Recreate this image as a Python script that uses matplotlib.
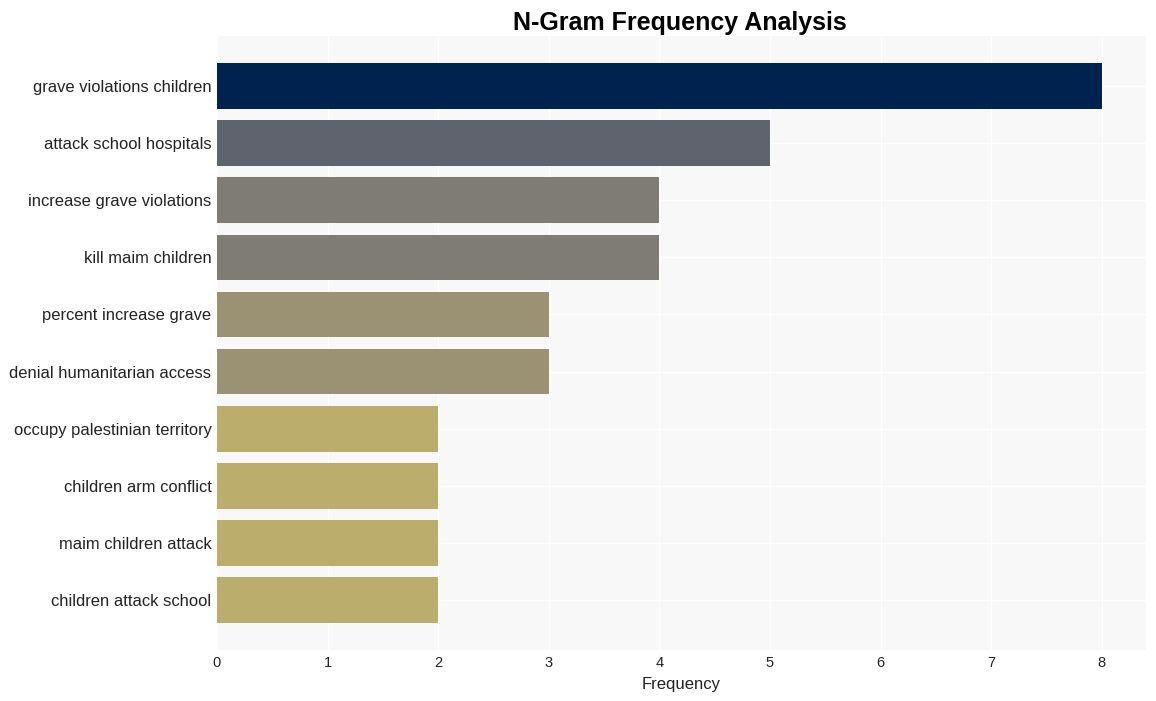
import matplotlib
matplotlib.use("Agg")
import matplotlib.pyplot as plt

ngrams = [
    "grave violations children",
    "attack school hospitals",
    "increase grave violations",
    "kill maim children",
    "percent increase grave",
    "denial humanitarian access",
    "occupy palestinian territory",
    "children arm conflict",
    "maim children attack",
    "children attack school",
]
counts = [8, 5, 4, 4, 3, 3, 2, 2, 2, 2]
bar_colors = ["#00224e", "#5f636e", "#7f7c76", "#7f7c76", "#9b9274",
              "#9b9274", "#bbad6c", "#bbad6c", "#bbad6c", "#bbad6c"]

plt.rcParams['font.family'] = ['Liberation Sans', 'DejaVu Sans']

fig = plt.figure(figsize=(11.56, 7.01), dpi=100)
ax = fig.add_axes([0.1877, 0.0727, 0.8036, 0.8759])
ax.set_facecolor("#f8f8f8")
ypos = list(range(len(ngrams)))
ax.barh(ypos, counts, height=0.8, color=bar_colors, zorder=2)
ax.set_yticks(ypos)
ax.set_yticklabels(ngrams, fontsize=11.9, color="#222222")
ax.set_xlim(0, 8.4)
ax.set_ylim(9.875, -0.875)
ax.set_xticks(range(0, 9))
ax.tick_params(axis='x', labelsize=10.5, colors="#222222", length=0, pad=4)
ax.tick_params(axis='y', length=0, pad=4)
ax.grid(True, color="white", linewidth=1, zorder=0)
ax.set_axisbelow(True)
for s in ax.spines.values():
    s.set_visible(False)
ax.set_xlabel("Frequency", fontsize=12, color="#222222", labelpad=5)
fig.suptitle("N-Gram Frequency Analysis", fontsize=18, fontweight="bold", x=0.588, y=0.985)
fig.savefig("out.png", dpi=100)
